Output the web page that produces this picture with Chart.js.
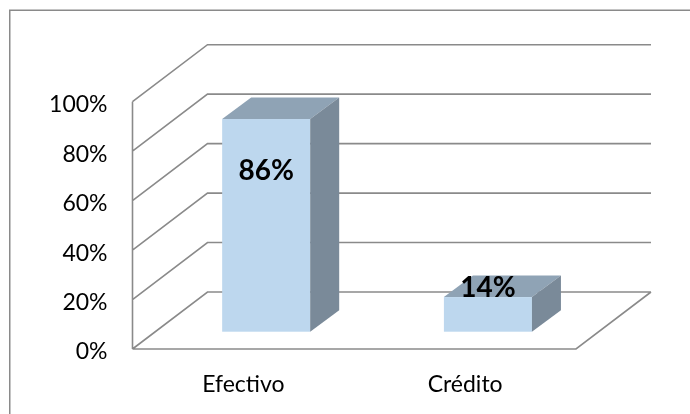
<!DOCTYPE html>
<html lang="es">
<head>
    <meta charset="UTF-8">
    <title>Forma de pago</title>
    <script src="https://cdn.jsdelivr.net/npm/chart.js"></script>
    <style>
      body { margin: 0; background: #fff; }
      canvas { display: block; }
    </style>
</head>
<body>
  <canvas id="barChart3d" width="690" height="414"></canvas>
<script>
  // datos del grafico
  const categorias = ['Efectivo', 'Crédito'];
  const porcentajes = [0.86, 0.14];
  const etiquetasValor = ['86%', '14%'];
  const ticksY = [0, 0.2, 0.4, 0.6, 0.8, 1];

  const fuente = "Lato, 'Open Sans', sans-serif";
  const colorLinea = '#8a8a8a';
  const colorFrente = '#bdd7ee';
  const colorArriba = '#8fa3b5';
  const colorLado = '#7a8a99';

  // profundidad de las paredes y de las barras
  const paredDX = 75, paredDY = 57;
  const barraOffX = 22.8, barraOffY = 17.3;
  const barraDX = 29, barraDY = 21.5;

  const efecto3d = {
    id: 'efecto3d',
    beforeDraw(chart) {
      const ctx = chart.ctx;
      // marco exterior
      ctx.save();
      ctx.strokeStyle = colorLinea;
      ctx.lineWidth = 1.5;
      ctx.strokeRect(9.75, 10.25, 720, 440);
      ctx.restore();
    },
    beforeDatasetsDraw(chart) {
      const ctx = chart.ctx;
      const area = chart.chartArea;
      const y = chart.scales.y;
      ctx.save();
      ctx.strokeStyle = colorLinea;
      ctx.lineWidth = 1.6;
      ctx.beginPath();
      ticksY.forEach(v => {
        const py = y.getPixelForValue(v);
        // pared izquierda
        ctx.moveTo(area.left, py);
        ctx.lineTo(area.left + paredDX, py - paredDY);
        // pared del fondo
        ctx.lineTo(area.right + paredDX, py - paredDY);
      });
      // eje vertical frontal
      ctx.moveTo(area.left, y.getPixelForValue(1));
      ctx.lineTo(area.left, y.getPixelForValue(0));
      // piso
      const y0 = y.getPixelForValue(0);
      ctx.moveTo(area.left, y0);
      ctx.lineTo(area.right, y0);
      ctx.lineTo(area.right + paredDX, y0 - paredDY);
      ctx.stroke();
      ctx.restore();
    },
    afterDatasetsDraw(chart) {
      const ctx = chart.ctx;
      const meta = chart.getDatasetMeta(0);
      ctx.save();
      meta.data.forEach((bar, i) => {
        const x0 = bar.x - bar.width / 2 + barraOffX;
        const x1 = bar.x + bar.width / 2 + barraOffX;
        const yt = bar.y - barraOffY;
        const yb = bar.base - barraOffY;

        ctx.fillStyle = colorFrente;
        ctx.fillRect(x0, yt, x1 - x0, yb - yt);

        ctx.fillStyle = colorArriba;
        ctx.beginPath();
        ctx.moveTo(x0, yt);
        ctx.lineTo(x1, yt);
        ctx.lineTo(x1 + barraDX, yt - barraDY);
        ctx.lineTo(x0 + barraDX, yt - barraDY);
        ctx.closePath();
        ctx.fill();

        ctx.fillStyle = colorLado;
        ctx.beginPath();
        ctx.moveTo(x1, yt);
        ctx.lineTo(x1 + barraDX, yt - barraDY);
        ctx.lineTo(x1 + barraDX, yb - barraDY);
        ctx.lineTo(x1, yb);
        ctx.closePath();
        ctx.fill();

        // etiqueta de valor: dentro si la barra es alta, encima si es baja
        const alto = yb - yt;
        const ly = alto > 80 ? yt + 52 : yt - 9;
        ctx.fillStyle = '#000';
        ctx.font = 'bold 28px ' + fuente;
        ctx.textAlign = 'center';
        ctx.textBaseline = 'middle';
        ctx.fillText(etiquetasValor[i], (x0 + x1) / 2, ly);
      });
      ctx.restore();
    }
  };

  document.addEventListener('DOMContentLoaded', () => {
    const ctx = document.getElementById('barChart3d').getContext('2d');
    new Chart(ctx, {
      type: 'bar',
      data: {
        labels: categorias,
        datasets: [{
          data: porcentajes,
          backgroundColor: 'rgba(0,0,0,0)',
          borderWidth: 0,
          categoryPercentage: 1,
          barPercentage: 0.397
        }]
      },
      options: {
        responsive: false,
        animation: false,
        devicePixelRatio: 1,
        layout: { padding: { top: 101.7, right: 114, left: 9, bottom: 0 } },
        plugins: { legend: { display: false }, tooltip: { enabled: false } },
        scales: {
          x: {
            grid: { display: false, drawTicks: false },
            border: { display: false },
            afterFit: s => { s.height = 65; },
            ticks: { color: '#000', padding: 22, font: { family: fuente, size: 23 } }
          },
          y: {
            min: 0,
            max: 1,
            afterFit: s => { s.width = 123.5; },
            afterBuildTicks: s => { s.ticks = ticksY.map(v => ({ value: v })); },
            grid: { display: false, drawTicks: false },
            border: { display: false },
            ticks: {
              color: '#000',
              padding: 25,
              labelOffset: 3,
              font: { family: fuente, size: 23 },
              callback: v => Math.round(v * 100) + '%'
            }
          }
        }
      },
      plugins: [efecto3d]
    });
  });
</script>
</body>
</html>
